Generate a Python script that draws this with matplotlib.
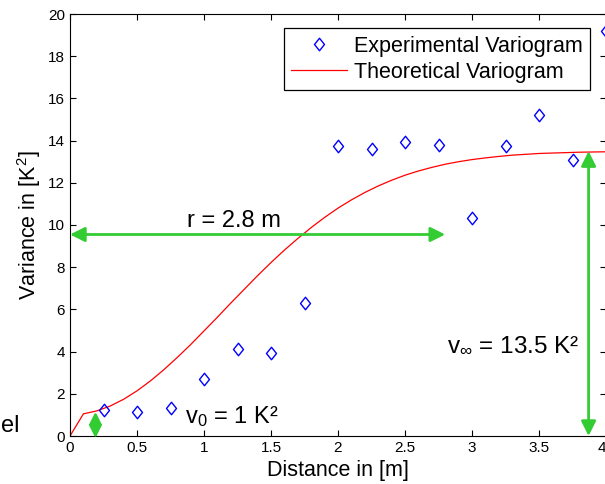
import numpy as np
from matplotlib import pyplot as plt
from matplotlib.path import Path

plt.rcParams['font.family'] = ['Liberation Sans', 'DejaVu Sans']
plt.rcParams['mathtext.fontset'] = 'custom'
plt.rcParams['mathtext.rm'] = 'Liberation Sans'
plt.rcParams['mathtext.it'] = 'Liberation Sans'

# experimental variogram
lag = [0.25, 0.5, 0.75, 1.0, 1.25, 1.5, 1.75, 2.0, 2.25, 2.5, 2.75,
       3.0, 3.25, 3.5, 3.75, 4.0]
gamma_exp = [1.25, 1.15, 1.34, 2.7, 4.12, 3.93, 6.28, 13.75, 13.6, 13.95,
             13.8, 10.35, 13.75, 15.2, 13.1, 19.2]

# theoretical variogram
h_model = [0.0, 0.1, 0.2, 0.3, 0.4, 0.5, 0.6, 0.7, 0.8, 0.9, 1.0,
           1.1, 1.2, 1.3, 1.4, 1.5, 1.6, 1.7, 1.8, 1.9, 2.0,
           2.1, 2.2, 2.3, 2.4, 2.5, 2.6, 2.7, 2.8, 2.9, 3.0,
           3.1, 3.2, 3.3, 3.4, 3.5, 3.6, 3.7, 3.8, 3.9, 4.0]
gamma_model = [0.0, 1.05, 1.19, 1.42, 1.74, 2.14, 2.61, 3.14, 3.72, 4.33, 4.98,
               5.63, 6.30, 6.95, 7.60, 8.22, 8.81, 9.36, 9.88, 10.36, 10.80,
               11.19, 11.54, 11.85, 12.12, 12.36, 12.56, 12.73, 12.88, 13.00, 13.10,
               13.18, 13.25, 13.31, 13.35, 13.39, 13.41, 13.43, 13.45, 13.46, 13.47]

nugget = 1.0
sill = 13.5
rng = 2.8

green = '#33cc33'
diamond = Path([(0, 1), (0.8, 0), (0, -1), (-0.8, 0), (0, 1)],
               [Path.MOVETO, Path.LINETO, Path.LINETO, Path.LINETO, Path.CLOSEPOLY])

fig = plt.figure(figsize=(6.05, 4.84), dpi=100)
ax = fig.add_axes([70 / 605, 48 / 484, 536 / 605, 422 / 484])

ax.plot(lag, gamma_exp, linestyle='none', marker=diamond, markersize=9,
        markerfacecolor='none', markeredgecolor='b', markeredgewidth=1,
        label='Experimental Variogram', clip_on=False, zorder=3)
ax.plot(h_model, gamma_model, color='r', lw=0.9, label='Theoretical Variogram')

ax.set_xlim(0, 4)
ax.set_ylim(0, 20)
ax.set_xticks(np.arange(0, 4.01, 0.5))
ax.set_xticklabels(['0', '0.5', '1', '1.5', '2', '2.5', '3', '3.5', '4'])
ax.get_xticklabels()[-1].set_horizontalalignment('right')
ax.set_yticks(np.arange(0, 21, 2))
ax.tick_params(direction='in', top=True, right=True, labelsize=11, length=4)
ax.set_xlabel('Distance in [m]', fontsize=15.5, labelpad=4)
ax.set_ylabel('Variance in [K$^2$]', fontsize=15.5, labelpad=4)

arrow = dict(arrowstyle='<|-|>', color=green, lw=2, mutation_scale=22,
             shrinkA=0, shrinkB=0)
ax.annotate('', xy=(0, 9.55), xytext=(rng, 9.55), arrowprops=arrow)
ax.annotate('', xy=(3.87, 0), xytext=(3.87, sill), arrowprops=arrow)

# nugget arrow: two heads meeting in the middle
half = dict(arrowstyle='-|>', color=green, lw=2, mutation_scale=18,
            shrinkA=0, shrinkB=0)
mid = 0.55
ax.annotate('', xy=(0.19, nugget + 0.15), xytext=(0.19, mid), arrowprops=half,
            annotation_clip=False)
ax.annotate('', xy=(0.19, -0.1), xytext=(0.19, mid), arrowprops=half,
            annotation_clip=False)

ax.text(1.22, 9.9, 'r = 2.8 m', fontsize=17, ha='center', va='baseline')
ax.text(3.8, 4.25, r'v$_\infty$ = 13.5 K²', fontsize=17.5, ha='right', va='center')
ax.text(0.86, 0.6, r'v$_0$ = 1 K²', fontsize=17, ha='left', va='baseline')
fig.text(1 / 605, 1 - 432 / 484, 'el', fontsize=17, ha='left', va='baseline')

leg = ax.legend(loc='upper right', bbox_to_anchor=(590 / 605, 1 - 28 / 484),
                bbox_transform=fig.transFigure, borderaxespad=0,
                fontsize=15.5, fancybox=False, framealpha=1,
                edgecolor='black', labelspacing=0.25,
                borderpad=0.35, handlelength=2.6, handletextpad=0.3)
leg.get_frame().set_linewidth(0.9)

fig.savefig('out.png', dpi=100)
